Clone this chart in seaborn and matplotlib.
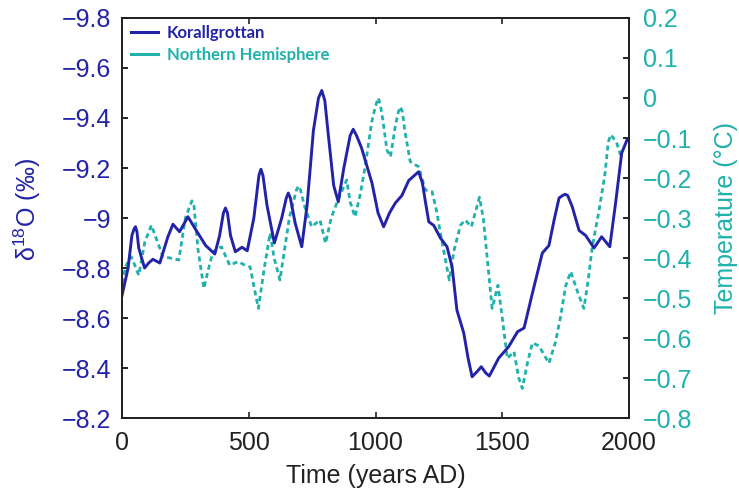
import matplotlib
matplotlib.use('Agg')
import matplotlib.pyplot as plt
from matplotlib.lines import Line2D
from matplotlib.ticker import FuncFormatter
import numpy as np
import seaborn as sns

#%% data
# Korallgrottan speleothem record (d18O, permil)
kor_year = [0, 24, 39, 47, 53, 59, 66, 89, 105, 122, 149, 181, 201, 227, 260, 290, 330,
            366, 385, 400, 408, 416, 428, 447, 473, 494, 520, 540, 548, 556, 572, 601,
            630, 648, 656, 664, 683, 709, 730, 755, 775, 788, 800, 812, 835, 853, 875,
            900, 912, 925, 945, 986, 1010, 1032, 1055, 1078, 1104, 1131, 1170, 1185,
            1196, 1210, 1230, 1256, 1282, 1302, 1321, 1348, 1365, 1381, 1400, 1417,
            1435, 1449, 1486, 1525, 1560, 1586, 1619, 1658, 1684, 1704, 1724, 1738,
            1748, 1758, 1776, 1803, 1829, 1862, 1892, 1924, 1947, 1971, 1993, 2000]
kor_d18o = [-8.69, -8.80, -8.93, -8.955, -8.965, -8.945, -8.88, -8.80, -8.82, -8.835,
            -8.82, -8.925, -8.975, -8.945, -9.005, -8.955, -8.89, -8.856, -8.93, -9.02,
            -9.04, -9.02, -8.93, -8.865, -8.883, -8.869, -9.0, -9.17, -9.195, -9.17,
            -9.05, -8.90, -9.0, -9.08, -9.10, -9.08, -8.98, -8.885, -9.05, -9.35,
            -9.48, -9.51, -9.47, -9.35, -9.13, -9.065, -9.20, -9.33, -9.355, -9.33,
            -9.28, -9.14, -9.02, -8.965, -9.02, -9.06, -9.09, -9.15, -9.185, -9.14,
            -9.07, -8.985, -8.97, -8.92, -8.885, -8.805, -8.632, -8.54, -8.44, -8.365,
            -8.385, -8.405, -8.38, -8.368, -8.44, -8.485, -8.545, -8.56, -8.70, -8.86,
            -8.89, -8.99, -9.08, -9.09, -9.095, -9.09, -9.045, -8.95, -8.93, -8.88,
            -8.925, -8.885, -9.06, -9.26, -9.315, -9.32]

# Northern Hemisphere temperature anomaly (deg C)
nh_year = [0, 15, 37, 66, 90, 116, 140, 162, 190, 224, 250, 268, 276, 284, 300, 323,
           340, 359, 392, 425, 458, 485, 505, 520, 538, 560, 584, 600, 623, 660, 688,
           696, 704, 720, 748, 781, 803, 825, 847, 886, 900, 919, 940, 959, 985, 1000,
           1011, 1020, 1030, 1045, 1059, 1078, 1090, 1098, 1106, 1115, 1137, 1170,
           1197, 1223, 1240, 1256, 1291, 1310, 1335, 1354, 1378, 1410, 1425, 1440,
           1460, 1483, 1500, 1520, 1546, 1565, 1579, 1600, 1619, 1645, 1684, 1710,
           1730, 1750, 1770, 1800, 1822, 1840, 1855, 1882, 1905, 1918, 1928, 1938,
           1950, 1967]
nh_temp = [-0.463, -0.42, -0.397, -0.443, -0.36, -0.318, -0.36, -0.397, -0.40, -0.405,
           -0.30, -0.27, -0.257, -0.27, -0.38, -0.476, -0.43, -0.384, -0.372, -0.418,
           -0.409, -0.418, -0.422, -0.47, -0.526, -0.43, -0.338, -0.40, -0.455, -0.30,
           -0.23, -0.22, -0.23, -0.27, -0.322, -0.305, -0.363, -0.30, -0.263, -0.205,
           -0.26, -0.297, -0.24, -0.172, -0.06, -0.02, 0.0, -0.02, -0.06, -0.13,
           -0.147, -0.07, -0.035, -0.022, -0.035, -0.08, -0.159, -0.172, -0.23, -0.234,
           -0.28, -0.338, -0.455, -0.38, -0.318, -0.305, -0.322, -0.248, -0.30, -0.397,
           -0.526, -0.468, -0.55, -0.651, -0.634, -0.70, -0.726, -0.66, -0.612, -0.62,
           -0.663, -0.61, -0.547, -0.47, -0.434, -0.49, -0.526, -0.45, -0.372, -0.28,
           -0.19, -0.11, -0.092, -0.10, -0.11, -0.143]

blue = '#2323a8'
teal = '#1fb1aa'

#%% style
plt.rcParams['font.family'] = ['Liberation Sans', 'DejaVu Sans']
plt.rcParams['mathtext.fontset'] = 'custom'
plt.rcParams['mathtext.rm'] = 'Liberation Sans'
plt.rcParams['mathtext.default'] = 'regular'


def fmt(v, pos):
    if abs(v) < 1e-9:
        return '0'
    return f'{v:g}'.replace('-', '\u2212')


fig = plt.figure(figsize=(7.39, 4.93), dpi=100)
ax = fig.add_axes([0.1651, 0.1521, 0.6861, 0.8114])
ax2 = ax.twinx()

sns.lineplot(x=nh_year, y=nh_temp, ax=ax2, color=teal, lw=2.0, dashes=False,
             legend=False)
ax2.lines[0].set_dashes((1.8, 1.3))
sns.lineplot(x=kor_year, y=kor_d18o, ax=ax, color=blue, lw=2.1, legend=False)

# put the blue record on top of the dashed one
ax.set_zorder(ax2.get_zorder() + 1)
ax.patch.set_visible(False)

ax.set_xlim(0, 2000)
ax.set_ylim(-8.2, -9.8)
ax2.set_ylim(-0.8, 0.2)
ax.set_xticks([0, 500, 1000, 1500, 2000])
ax.set_yticks(np.round(np.arange(-9.8, -8.19, 0.2), 1))
ax2.set_yticks(np.round(np.arange(-0.8, 0.21, 0.1), 1))
ax.yaxis.set_major_formatter(FuncFormatter(fmt))
ax2.yaxis.set_major_formatter(FuncFormatter(fmt))

for a in (ax, ax2):
    for s in a.spines.values():
        s.set_linewidth(1.3)
        s.set_color('#222222')

ax.tick_params(axis='x', direction='in', length=4, width=1.2, top=True,
               labelsize=18, pad=9, colors='#222222')
ax.tick_params(axis='y', direction='in', length=4, width=1.2, right=False,
               labelsize=18, pad=8, labelcolor=blue)
ax2.tick_params(axis='y', direction='in', length=4, width=1.2,
                labelsize=18, pad=10, labelcolor=teal)

ax.set_xlabel('Time (years AD)', fontsize=18, color='#222222')
ax.xaxis.set_label_coords(0.5, -0.115)
ax.set_ylabel('δ$^{18}$O (‰)', fontsize=18, color=blue)
ax.yaxis.set_label_coords(-0.155, 0.52)
ax2.set_ylabel('Temperature (°C)', fontsize=18, color=teal)
ax2.yaxis.set_label_coords(1.168, 0.5)

handles = [Line2D([], [], color=blue, lw=2.2), Line2D([], [], color=teal, lw=2.2)]
leg = ax.legend(handles, ['Korallgrottan', 'Northern Hemisphere'], loc='upper left',
                bbox_to_anchor=(0.008, 0.995), frameon=False, borderaxespad=0,
                borderpad=0.3, handlelength=1.6, handletextpad=0.55,
                labelspacing=0.35, prop=dict(family='Lato', weight='bold', size=12))
for t, c in zip(leg.get_texts(), [blue, teal]):
    t.set_color(c)

fig.savefig('out.png', dpi=100)
